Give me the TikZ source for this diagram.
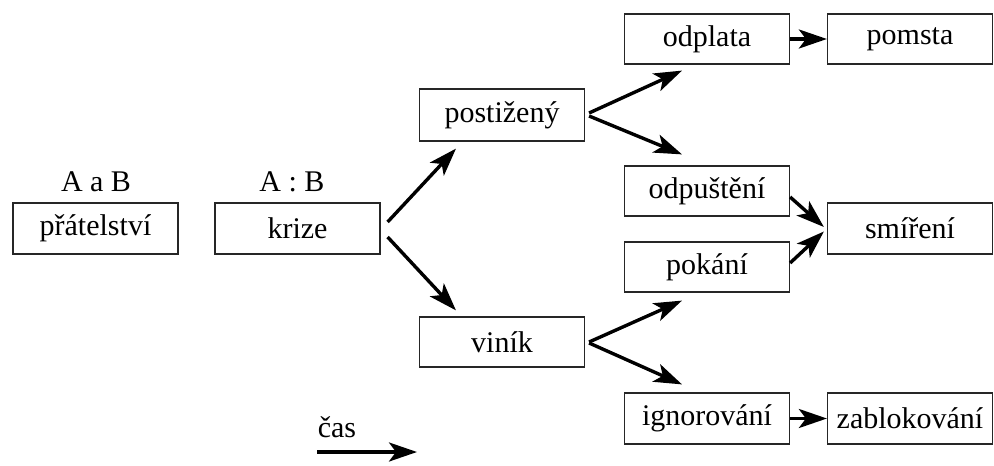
\documentclass[tikz,border=0pt]{standalone}
\usepackage{fontspec}
\setmainfont{Liberation Serif}
\usetikzlibrary{arrows.meta}
\begin{document}
\begin{tikzpicture}[x=1pt,y=-1pt,
  box/.style={draw=black!85,line width=1.2pt,minimum width=165pt,minimum height=51pt,inner sep=0pt,
    font=\fontsize{30}{36}\selectfont},
  lbl/.style={inner sep=0pt,font=\fontsize{30}{36}\selectfont},
  arr/.style={line width=3.4pt,-{Stealth[length=28pt,width=19pt,inset=7pt]}}]
\useasboundingbox (0,0) rectangle (994,466);
\node[box] (prat) at (95.5,228.5) {přátelství};
\node[box] (krize) at (297.5,228.5) {krize};
\node[box,minimum height=52pt] (post) at (502,115) {postižený};
\node[box,minimum height=50pt] (vinik) at (502,342) {viník};
\node[box,minimum height=50pt] (odplata) at (707,39) {odplata};
\node[box,minimum height=50pt] (pomsta) at (910,39) {pomsta};
\node[box,minimum height=50pt] (odpust) at (707,191) {odpuštění};
\node[box,minimum height=50pt] (pokani) at (707,267) {pokání};
\node[box] (smireni) at (910,228.5) {smíření};
\node[box] (ignor) at (707,418.5) {ignorování};
\node[box] (zablok) at (910,418.5) {zablokování};
\node[lbl] (lab1) at (96,182) {A a B};
\node[lbl] (lab2) at (292,182) {A : B};
\node[lbl] (cas) at (337,427) {čas};
\coordinate (t0) at (317,452);
\coordinate (t1) at (417,452);
\draw[arr] ([shift={(7,-6.5)}]krize.east) -- ([shift={(-46,7)}]post.south);
\draw[arr] ([shift={(7,8.5)}]krize.east) -- ([shift={(-46,-6)}]vinik.north);
\draw[arr] ([shift={(4,-2)}]post.east) -- ([shift={(-25,6)}]odplata.south);
\draw[arr] ([shift={(4,1)}]post.east) -- ([shift={(-25,-11)}]odpust.north);
\draw[arr] ([shift={(4,0)}]vinik.east) -- ([shift={(-25,8)}]pokani.south);
\draw[arr] ([shift={(4,1)}]vinik.east) -- ([shift={(-25,-8)}]ignor.north);
\draw[arr] (odplata.east) -- (pomsta.west);
\draw[arr] ([shift={(0,6)}]odpust.east) -- ([shift={(-3,-1.5)}]smireni.west);
\draw[arr] ([shift={(0,-4)}]pokani.east) -- ([shift={(-3,3)}]smireni.west);
\draw[arr] (ignor.east) -- (zablok.west);
\draw[arr] (t0) -- (t1);
\end{tikzpicture}
\end{document}
